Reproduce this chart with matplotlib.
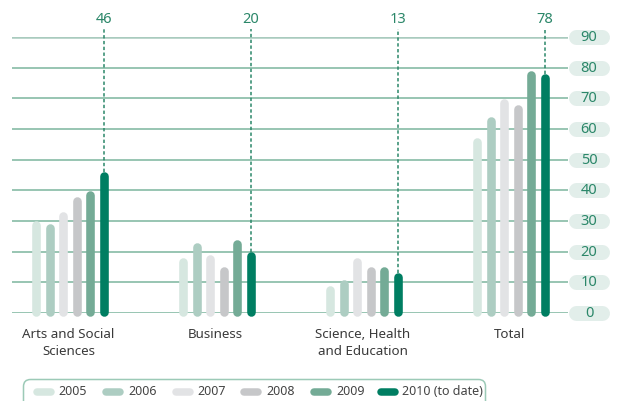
import matplotlib
matplotlib.use("Agg")
import matplotlib.pyplot as plt
from matplotlib.patches import FancyBboxPatch

plt.rcParams['font.family'] = ['Noto Sans', 'DejaVu Sans']

# Enrolment counts per faculty and year
categories = ['Arts and Social\nSciences', 'Business', 'Science, Health\nand Education', 'Total']
years = ['2005', '2006', '2007', '2008', '2009', '2010 (to date)']
values_2005 = [30, 18, 9, 57]
values_2006 = [29, 23, 11, 64]
values_2007 = [33, 19, 18, 70]
values_2008 = [38, 15, 15, 68]
values_2009 = [40, 24, 15, 79]
values_2010 = [46, 20, 13, 78]
y_ticks = [0, 10, 20, 30, 40, 50, 60, 70, 80, 90]

series = [values_2005, values_2006, values_2007, values_2008, values_2009, values_2010]
colors = ['#d6e7e0', '#adcdc2', '#e2e3e5', '#c6c7c9', '#74ab96', '#007e62']
accent = '#2b8769'
grid_col = '#86bba6'

W, H = 618, 401
fig = plt.figure(figsize=(W / 100, H / 100), dpi=100)

# main plotting area in pixel terms: x 12..568, y=0 at 313, y=90 at 37
ax = fig.add_axes([12 / W, (H - 313) / H, 556 / W, 276 / H])
group_px = 147.0
ax.set_xlim(-58 / group_px, 498 / group_px)
ax.set_ylim(0, 90)
ax.axis('off')

# horizontal grid
for t in y_ticks:
    if t == 90:
        ax.axhline(t, color='#a9cbbe', lw=1.8, zorder=1)
    else:
        ax.axhline(t, color=grid_col, lw=1.2, zorder=1)

# pill-shaped tick labels on the right
ytr = ax.get_yaxis_transform()
px_to_ax = 1 / 556.0
for t in y_ticks:
    ax.plot([(568 - 12 + 7.5) * px_to_ax, (609 - 12 - 7.5) * px_to_ax], [t, t],
            transform=ytr, color='#e2eeea', lw=15 * 0.72, solid_capstyle='round',
            clip_on=False, zorder=2)
    ax.text((589 - 12) * px_to_ax, t - 0.2, str(t), transform=ytr, ha='center',
            va='center', fontsize=10.5, color=accent, clip_on=False, zorder=3)

# rounded bars
bar_px = 8.6
r_data = (bar_px / 2) * 90 / 276
step = 13.6 / group_px
for k, vals in enumerate(series):
    for i, v in enumerate(vals):
        x = i + (k - 2.5) * step
        ax.plot([x, x], [r_data * 0.2, v - r_data], color=colors[k], lw=bar_px * 0.72,
                solid_capstyle='round', clip_on=False, zorder=4)

# callouts for the latest year
for i, v in enumerate(values_2010):
    x = i + 2.5 * step
    ax.plot([x, x], [v, 92.6], color=accent, lw=1.1, ls=(0, (2.2, 1.6)),
            clip_on=False, zorder=3)
    ax.text(x, 95.8, str(v), ha='center', va='center', fontsize=10.5,
            color=accent, clip_on=False)

# category labels
for i, c in enumerate(categories):
    ax.text(i - 0.01, -4.8, c, ha='center', va='top', fontsize=9.6,
            color='#3a3a3a', linespacing=1.4, clip_on=False)

# legend drawn in pixel space
lax = fig.add_axes([0, 0, 1, 1])
lax.set_xlim(0, W)
lax.set_ylim(H, 0)
lax.axis('off')
lax.add_patch(FancyBboxPatch((23.5, 379.5), 462, 40,
                             boxstyle='round,pad=0,rounding_size=7',
                             fc='none', ec='#9ccab7', lw=1.1))
sw_x = [33, 102, 172, 240, 310, 377]
tx_x = [58, 128, 197, 266, 336, 402]
ly = 391.5
for k in range(len(years)):
    lax.plot([sw_x[k] + 3.5, sw_x[k] + 21 - 3.5], [ly, ly], color=colors[k],
             lw=7.5 * 0.72, solid_capstyle='round')
    lax.text(tx_x[k], ly, years[k], ha='left', va='center', fontsize=9,
             color='#444444')

fig.savefig('out.png', dpi=100)
